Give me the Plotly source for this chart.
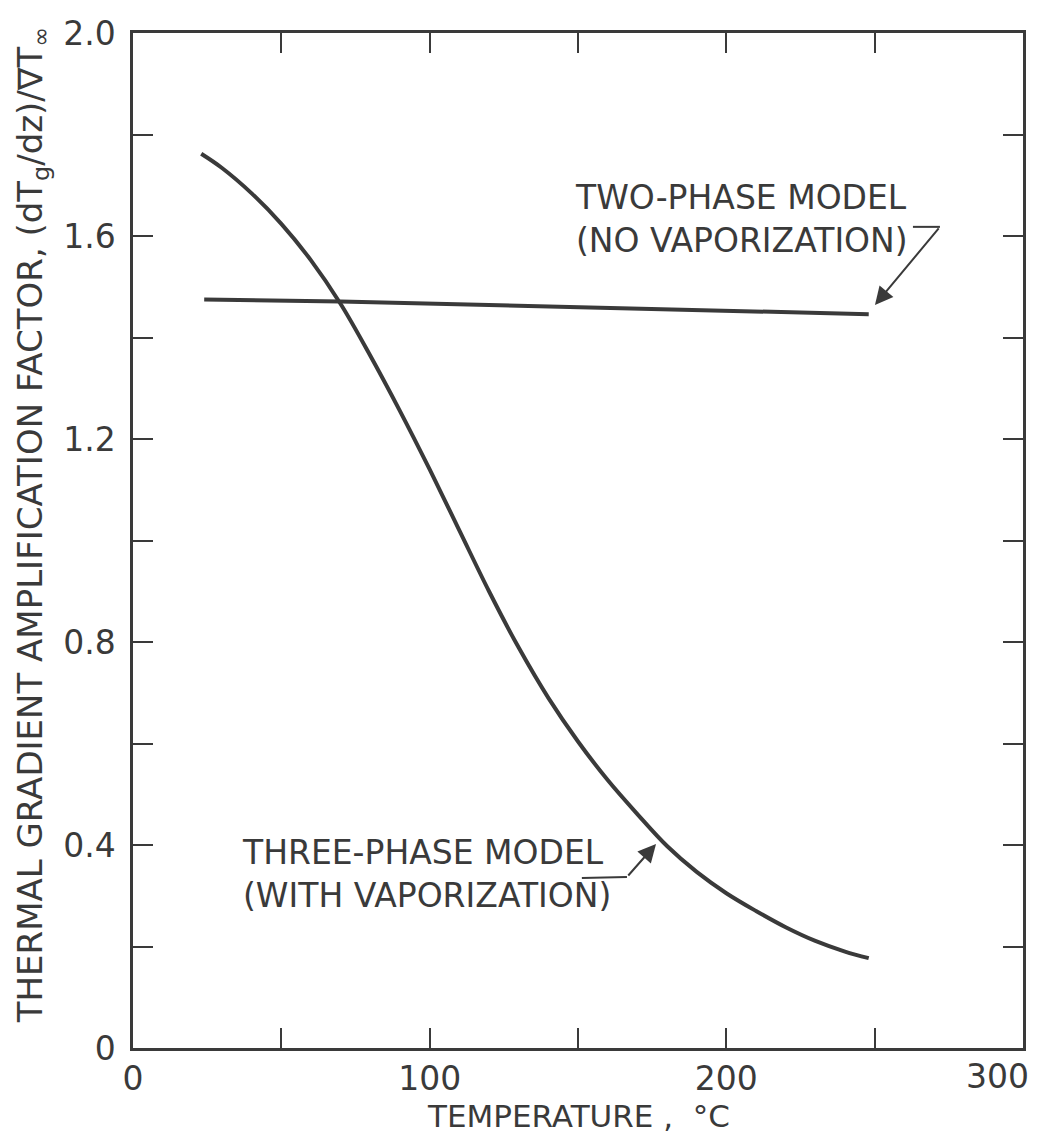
import plotly.graph_objects as go

# ---- data ----
three_phase_temp = [23, 30, 40, 50, 60, 70, 80, 90, 100, 110, 120, 130, 140, 150, 160, 170, 180, 190,
                    200, 210, 220, 230, 240, 248]
three_phase_factor = [1.762, 1.734, 1.684, 1.624, 1.552, 1.466, 1.364, 1.255, 1.140, 1.020, 0.900, 0.789,
                      0.690, 0.604, 0.528, 0.461, 0.398, 0.347, 0.305, 0.270, 0.238, 0.211, 0.190, 0.177]

two_phase_temp = [24, 70, 248]
two_phase_factor = [1.475, 1.471, 1.446]

x_tickvals = [0, 50, 100, 150, 200, 250, 300]
x_ticktext = ["0", "", "100", "", "200", "", ""]
y_tickvals = [0, 0.2, 0.4, 0.6, 0.8, 1.0, 1.2, 1.4, 1.6, 1.8, 2.0]
y_ticktext = ["0", "", "0.4", "", "0.8", "", "1.2", "", "1.6", "", "2.0"]

FONT = "DejaVu Sans"
INK = "#3a3a3a"

fig = go.Figure()
fig.add_trace(go.Scatter(x=three_phase_temp, y=three_phase_factor, mode="lines",
                         line=dict(color=INK, width=4, shape="spline", smoothing=1.0),
                         name="Three-phase model", showlegend=False))
fig.add_trace(go.Scatter(x=two_phase_temp, y=two_phase_factor, mode="lines",
                         line=dict(color=INK, width=4),
                         name="Two-phase model", showlegend=False))

# leader strokes
fig.add_shape(type="line", x0=262.9, y0=1.618, x1=272.0, y1=1.618, line=dict(color=INK, width=2))
fig.add_shape(type="line", x0=151.3, y0=0.335, x1=166.5, y1=0.337, line=dict(color=INK, width=2))

fig.add_annotation(x=250.1, y=1.464, ax=272.0, ay=1.618, axref="x", ayref="y", xref="x", yref="y",
                   text="", showarrow=True, arrowhead=2, arrowsize=1.8, arrowwidth=2, arrowcolor=INK)
fig.add_annotation(x=176.3, y=0.402, ax=166.5, ay=0.337, axref="x", ayref="y", xref="x", yref="y",
                   text="", showarrow=True, arrowhead=2, arrowsize=1.8, arrowwidth=2, arrowcolor=INK)

fig.add_annotation(x=148.3, y=1.633, xref="x", yref="y", xanchor="left", yanchor="middle", align="left",
                   text="TWO-PHASE MODEL<br>(NO VAPORIZATION)", showarrow=False,
                   font=dict(family=FONT, size=33, color=INK))
fig.add_annotation(x=36.1, y=0.342, xref="x", yref="y", xanchor="left", yanchor="middle", align="left",
                   text="THREE-PHASE MODEL<br>(WITH VAPORIZATION)", showarrow=False,
                   font=dict(family=FONT, size=33, color=INK))

# last x tick label, kept inside the page as in the reference
fig.add_annotation(x=300, y=-0.0276, xref="x", yref="paper", xanchor="right", yanchor="middle",
                   xshift=8, text="300", showarrow=False, font=dict(family=FONT, size=33, color=INK))

# axis titles
fig.add_annotation(x=0.5, y=-0.067, xref="paper", yref="paper", xanchor="center", yanchor="middle",
                   showarrow=False, text="TEMPERATURE ,  °C",
                   font=dict(family=FONT, size=31, color=INK))
fig.add_annotation(x=-0.1135, y=0.515, xref="paper", yref="paper", xanchor="center", yanchor="middle",
                   textangle=-90, showarrow=False,
                   text="THERMAL GRADIENT AMPLIFICATION FACTOR, (dT<sub>g</sub>/dz)/∇T<sub>∞</sub>",
                   font=dict(family=FONT, size=34, color=INK))

axis_common = dict(showgrid=False, zeroline=False, showline=True, linecolor=INK, linewidth=2.5,
                   mirror="ticks", ticks="inside", ticklen=20, tickwidth=2, tickcolor=INK,
                   tickfont=dict(family=FONT, size=33, color=INK))

fig.update_xaxes(range=[0, 300], tickmode="array", tickvals=x_tickvals, ticktext=x_ticktext,
                 ticklabelstandoff=0, **axis_common)
fig.update_yaxes(range=[0, 2.0], tickmode="array", tickvals=y_tickvals, ticktext=y_ticktext,
                 ticklabelstandoff=8, **axis_common)

fig.update_layout(width=1039, height=1142, margin=dict(l=133, r=16, t=33, b=94),
                  plot_bgcolor="white", paper_bgcolor="white", showlegend=False)

fig.write_html("out.html", config={"displayModeBar": False},
               post_script="document.body.style.margin='0px';document.body.style.overflow='hidden';")
